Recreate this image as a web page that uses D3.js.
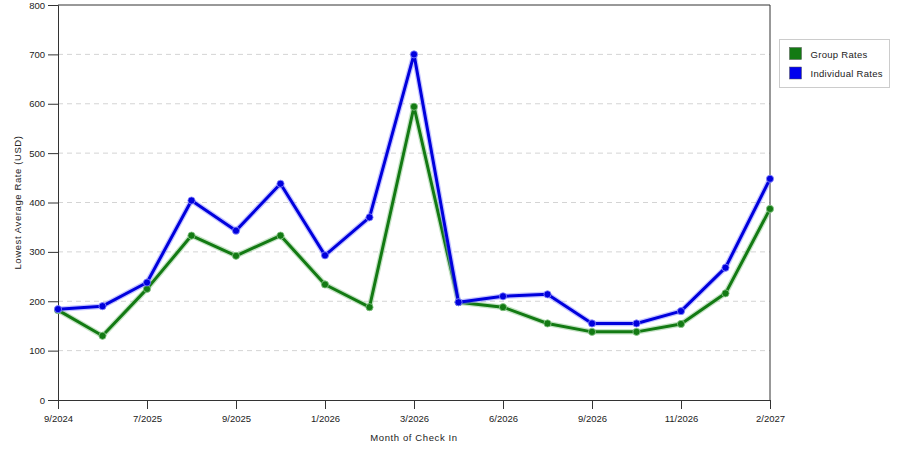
<!DOCTYPE html>
<html>
<head>
<meta charset="utf-8">
<script src="https://cdn.jsdelivr.net/npm/d3@7"></script>
<style>
  body { margin: 0; background: #fff; }
  svg { font-family: "Liberation Sans", Arial, sans-serif; }
</style>
</head>
<body>
<svg id="chart" width="900" height="450"></svg>
<script>
// month slots (labels only on every other slot)
var months = ["9/2024", "", "7/2025", "", "9/2025", "", "1/2026", "", "3/2026", "",
              "6/2026", "", "9/2026", "", "11/2026", "", "2/2027"];
var groupRates = [182, 130, 225, 333, 292, 333, 234, 188, 594, 198, 188, 155, 138, 138, 154, 216, 387];
var individualRates = [184, 190, 238, 404, 343, 438, 293, 370, 700, 198, 210, 214, 155, 155, 180, 268, 448];
var yTicks = [0, 100, 200, 300, 400, 500, 600, 700, 800];

var seriesNames = ["Group Rates", "Individual Rates"];
var seriesColors = ["#137a13", "#0000dd"];
var haloColors = ["#8cc88c", "#8c8cff"];
var legendColors = ["#137a13", "#0000ee"];

var svg = d3.select('#chart');
var margin = {left: 58, top: 5, right: 770, bottom: 400};

var x = d3.scalePoint()
    .domain(d3.range(months.length))
    .range([margin.left, margin.right]);
var y = d3.scaleLinear()
    .domain([0, 800])
    .range([margin.bottom, margin.top]);

// gridlines
svg.append('g')
    .selectAll('line')
    .data(yTicks.filter(function (d) { return d > 0 && d < 800; }))
    .enter().append('line')
    .attr('x1', margin.left).attr('x2', margin.right)
    .attr('y1', d => y(d)).attr('y2', d => y(d))
    .attr('stroke', '#d4d4d4')
    .attr('stroke-dasharray', '5,4');

// frame top/right
svg.append('path')
    .attr('d', 'M' + margin.left + ',' + y(800) + 'H' + margin.right + 'V' + margin.bottom)
    .attr('fill', 'none')
    .attr('stroke', '#333');

// y axis
var yAxis = svg.append('g')
    .attr('transform', 'translate(' + margin.left + ',0)')
    .call(d3.axisLeft(y).tickValues(yTicks).tickSize(10).tickPadding(3).tickFormat(d3.format('d')));
yAxis.select('.domain').attr('stroke', '#333');
yAxis.selectAll('line').attr('stroke', '#333');
yAxis.selectAll('text').attr('font-size', 9.5).attr('fill', '#222');

// x axis
var labelled = d3.range(months.length).filter(function (i) { return months[i] !== ""; });
var xAxis = svg.append('g')
    .attr('transform', 'translate(0,' + margin.bottom + ')')
    .call(d3.axisBottom(x).tickValues(labelled).tickSize(9).tickPadding(6).tickFormat(i => months[i]));
xAxis.select('.domain').attr('stroke', '#333');
xAxis.selectAll('line').attr('stroke', '#333');
xAxis.selectAll('text').attr('font-size', 9.5).attr('fill', '#222');

// axis titles
svg.append('text')
    .attr('transform', 'translate(21,' + ((margin.top + margin.bottom) / 2) + ') rotate(-90)')
    .attr('text-anchor', 'middle')
    .attr('font-size', 9.5)
    .attr('fill', '#222')
    .attr('letter-spacing', 0.6)
    .text('Lowest Average Rate (USD)');

svg.append('text')
    .attr('x', 414).attr('y', 441)
    .attr('text-anchor', 'middle')
    .attr('font-size', 9.5)
    .attr('fill', '#222')
    .attr('letter-spacing', 0.6)
    .text('Month of Check In');

// series
var line = d3.line()
    .x((d, i) => x(i))
    .y(d => y(d));

[groupRates, individualRates].forEach(function (vals, s) {
    var g = svg.append('g');
    g.append('path')
        .datum(vals)
        .attr('d', line)
        .attr('fill', 'none')
        .attr('stroke', haloColors[s])
        .attr('stroke-width', 5.5)
        .attr('stroke-opacity', 0.5)
        .attr('stroke-linejoin', 'round');
    g.append('path')
        .datum(vals)
        .attr('d', line)
        .attr('fill', 'none')
        .attr('stroke', seriesColors[s])
        .attr('stroke-width', 3)
        .attr('stroke-linejoin', 'round');
    g.selectAll('circle')
        .data(vals)
        .enter().append('circle')
        .attr('cx', (d, i) => x(i))
        .attr('cy', d => y(d))
        .attr('r', 3.6)
        .attr('fill', seriesColors[s])
        .attr('stroke', haloColors[s])
        .attr('stroke-opacity', 0.8)
        .attr('stroke-width', 1);
});

// legend
var legend = svg.append('g').attr('transform', 'translate(779.5,39.5)');
legend.append('rect')
    .attr('width', 110).attr('height', 48)
    .attr('fill', '#fff')
    .attr('stroke', '#ccc');
seriesNames.forEach(function (name, i) {
    legend.append('rect')
        .attr('x', 10).attr('y', 8 + i * 19.5)
        .attr('width', 12).attr('height', 12)
        .attr('fill', legendColors[i])
        .attr('stroke', '#555')
        .attr('stroke-width', 0.5);
    legend.append('text')
        .attr('x', 31).attr('y', 18 + i * 19.5)
        .attr('font-size', 9.5)
        .attr('fill', '#222')
        .attr('letter-spacing', 0.3)
        .text(name);
});
</script>
</body>
</html>
